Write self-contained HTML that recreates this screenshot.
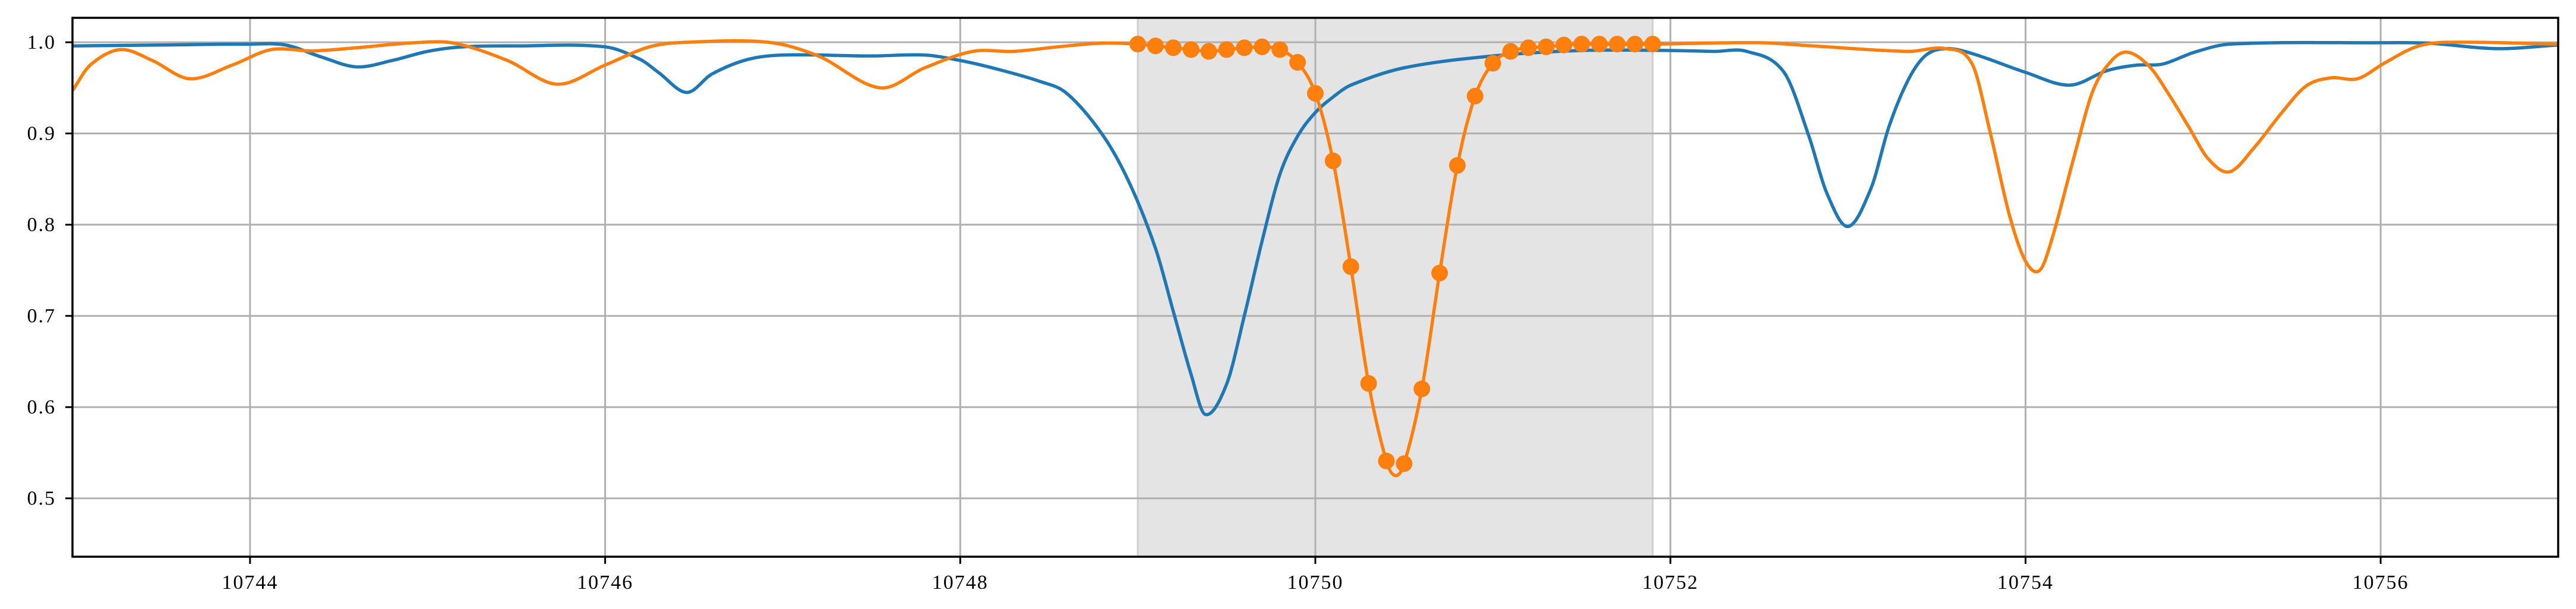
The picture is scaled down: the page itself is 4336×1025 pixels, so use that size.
<!DOCTYPE html>
<html><head><meta charset="utf-8"><style>
html,body{margin:0;padding:0;background:#fff;}
svg{display:block;}
text{font-family:"Liberation Serif","DejaVu Serif",serif;font-size:34px;fill:#000;letter-spacing:2px;}
</style></head><body>
<svg id="chart" width="4336" height="1025" viewBox="0 0 4336 1025" xmlns="http://www.w3.org/2000/svg"></svg>
<script>
const xTicks = [10744, 10746, 10748, 10750, 10752, 10754, 10756];
const yTicks = [0.5, 0.6, 0.7, 0.8, 0.9, 1.0];
const yTickLabels = ["0.5", "0.6", "0.7", "0.8", "0.9", "1.0"];
const spanRange = [10749.0, 10751.9];
const blueX = [10743.0,10743.5,10744.0,10744.2,10744.4,10744.6,10744.8,10745.0,10745.2,10745.5,10746.0,10746.2,10746.3,10746.46,10746.6,10746.8,10747.0,10747.5,10747.8,10748.0,10748.2,10748.45,10748.6,10748.8,10748.95,10749.1,10749.2,10749.3,10749.38,10749.5,10749.6,10749.7,10749.8,10749.9,10750.0,10750.1,10750.2,10750.5,10751.0,10751.5,10752.0,10752.25,10752.43,10752.64,10752.78,10752.88,10753.0,10753.13,10753.23,10753.34,10753.44,10753.56,10753.71,10754.0,10754.25,10754.46,10754.63,10754.77,10754.95,10755.15,10756.0,10756.27,10756.65,10757.0];
const blueY = [0.996,0.997,0.998,0.997,0.984,0.973,0.980,0.990,0.995,0.996,0.995,0.981,0.967,0.945,0.965,0.981,0.986,0.985,0.986,0.980,0.971,0.957,0.944,0.899,0.847,0.774,0.705,0.636,0.592,0.625,0.700,0.782,0.855,0.897,0.923,0.940,0.953,0.972,0.985,0.991,0.991,0.990,0.990,0.967,0.897,0.835,0.798,0.840,0.907,0.959,0.986,0.993,0.987,0.967,0.953,0.969,0.975,0.976,0.989,0.998,0.9995,0.999,0.993,0.997];
const orangeX = [10743.0,10743.1,10743.27,10743.45,10743.66,10743.9,10744.12,10744.35,10744.6,10744.93,10745.15,10745.45,10745.73,10746.0,10746.25,10746.46,10746.92,10747.2,10747.55,10747.8,10748.07,10748.3,10748.55,10748.8,10749.0,10749.1,10749.2,10749.3,10749.4,10749.5,10749.6,10749.7,10749.8,10749.9,10750.0,10750.1,10750.2,10750.3,10750.4,10750.45,10750.5,10750.6,10750.7,10750.8,10750.9,10751.0,10751.1,10751.2,10751.3,10751.4,10751.5,10751.6,10751.7,10751.8,10751.9,10752.5,10752.8,10753.34,10753.55,10753.7,10753.8,10753.91,10754.0,10754.08,10754.15,10754.27,10754.38,10754.49,10754.58,10754.7,10754.81,10754.92,10755.03,10755.15,10755.29,10755.44,10755.58,10755.72,10755.87,10756.02,10756.2,10756.37,10757.0];
const orangeY = [0.947,0.975,0.992,0.980,0.960,0.975,0.992,0.9905,0.994,0.9995,0.999,0.980,0.954,0.975,0.995,1.0,1.0,0.985,0.950,0.972,0.990,0.990,0.995,0.999,0.998,0.996,0.994,0.992,0.990,0.992,0.994,0.995,0.992,0.978,0.944,0.870,0.754,0.626,0.541,0.525,0.538,0.620,0.747,0.865,0.941,0.977,0.990,0.994,0.995,0.997,0.998,0.998,0.998,0.998,0.998,0.9995,0.996,0.990,0.993,0.976,0.902,0.810,0.760,0.750,0.785,0.872,0.947,0.981,0.989,0.973,0.942,0.907,0.872,0.858,0.885,0.922,0.952,0.961,0.960,0.977,0.995,1.0,0.998];
const markerX = [10749.0,10749.1,10749.2,10749.3,10749.4,10749.5,10749.6,10749.7,10749.8,10749.9,10750.0,10750.1,10750.2,10750.3,10750.4,10750.5,10750.6,10750.7,10750.8,10750.9,10751.0,10751.1,10751.2,10751.3,10751.4,10751.5,10751.6,10751.7,10751.8,10751.9];
const markerY = [0.998,0.996,0.994,0.992,0.990,0.992,0.994,0.995,0.992,0.978,0.944,0.870,0.754,0.626,0.541,0.538,0.620,0.747,0.865,0.941,0.977,0.990,0.994,0.995,0.997,0.998,0.998,0.998,0.998,0.998];

const L=122,R=4306,T=30,B=937;
const xMin=10743,xMax=10757,yMin=0.436,yMax=1.0268;
const sx=v=>L+(v-xMin)/(xMax-xMin)*(R-L);
const sy=v=>B-(v-yMin)/(yMax-yMin)*(B-T);
const NS="http://www.w3.org/2000/svg";
const svg=document.getElementById('chart');
function mk(tag,attrs,parent){const e=document.createElementNS(NS,tag);for(const k in attrs)e.setAttribute(k,attrs[k]);(parent||svg).appendChild(e);return e;}
function pathFrom(xs,ys){
  const n=xs.length;
  const m=xs.map((x,i)=>{
    const a=Math.max(0,i-1),b=Math.min(n-1,i+1);
    return (ys[b]-ys[a])/(xs[b]-xs[a]);
  });
  let d='M'+sx(xs[0])+','+sy(ys[0]);
  for(let i=0;i<n-1;i++){
    const h=xs[i+1]-xs[i];
    const c1x=xs[i]+h/3,c1y=ys[i]+m[i]*h/3;
    const c2x=xs[i+1]-h/3,c2y=ys[i+1]-m[i+1]*h/3;
    d+=' C'+sx(c1x)+','+sy(c1y)+' '+sx(c2x)+','+sy(c2y)+' '+sx(xs[i+1])+','+sy(ys[i+1]);
  }
  return d;
}
const clip=mk('clipPath',{id:'plotclip'});
mk('rect',{x:L,y:T,width:R-L,height:B-T},clip);

const span=mk('rect',{x:sx(spanRange[0]),y:T,width:sx(spanRange[1])-sx(spanRange[0]),height:B-T,fill:'#e4e4e4',stroke:'#cfcfcf','stroke-width':3});



xTicks.forEach(t=>{
  const g=mk('line',{x1:sx(t),x2:sx(t),y1:T,y2:B,stroke:'#b0b0b0','stroke-width':3});
  
  
  const tk=mk('line',{x1:sx(t),x2:sx(t),y1:B,y2:B+12,stroke:'#000','stroke-width':3});
  
  
  const lb=mk('text',{x:sx(t),y:B+54,'text-anchor':'middle'});
  lb.textContent=String(t);
  
  
});
yTicks.forEach((t,i)=>{
  const g=mk('line',{x1:L,x2:R,y1:sy(t),y2:sy(t),stroke:'#b0b0b0','stroke-width':3});
  
  
  const tk=mk('line',{x1:L-12,x2:L,y1:sy(t),y2:sy(t),stroke:'#000','stroke-width':3});
  
  
  const lb=mk('text',{x:L-28,y:sy(t)+11,'text-anchor':'end'});
  lb.textContent=yTickLabels[i];
  
  
});

const blue=mk('path',{d:pathFrom(blueX,blueY),fill:'none',stroke:'#1f77b4','stroke-width':5.5,'clip-path':'url(#plotclip)','stroke-linejoin':'round'});


const orange=mk('path',{d:pathFrom(orangeX,orangeY),fill:'none',stroke:'#ff7f0e','stroke-width':5.5,'clip-path':'url(#plotclip)','stroke-linejoin':'round'});


markerX.forEach((x,i)=>{
  const c=mk('circle',{cx:sx(x),cy:sy(markerY[i]),r:14,fill:'#ff7f0e'});
  
  
});
const frame=mk('rect',{x:L,y:T,width:R-L,height:B-T,fill:'none',stroke:'#000','stroke-width':3.5});


</script>
</body></html>
